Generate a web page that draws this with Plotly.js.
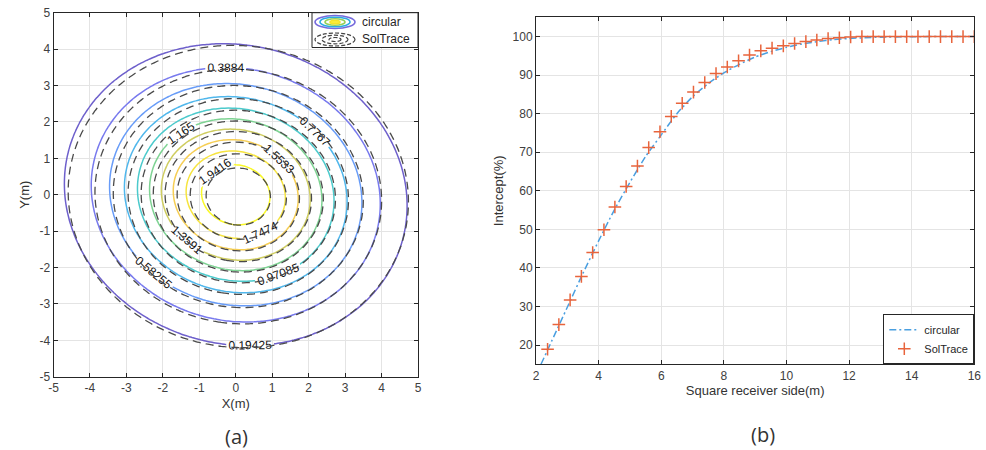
<!DOCTYPE html>
<html>
<head>
<meta charset="utf-8">
<script src="https://cdn.plot.ly/plotly-3.0.1.min.js"></script>
<style>
html, body { margin: 0; padding: 0; background: #fff; }
#chart { width: 986px; height: 450px; }
</style>
</head>
<body>
<div id="chart"></div>
<script>
// ---- (a) flux maps on the receiver plane ----
// contour levels as labelled on the map
const contourLevels = [0.19425, 0.3884, 0.58255, 0.7767, 0.97085, 1.165, 1.3591, 1.5533, 1.7474, 1.9416];
// elliptical Gaussian fit of each map: [circular, SolTrace]
const mapNames = ['circular', 'SolTrace'];
const fluxPeak = [2.1368, 2.115];
const spreadMajor = [2.165, 2.14];
const spreadMinor = [1.873, 1.895];
const centreX = [0.0, 0.07];
const centreY = [0.0, -0.05];
const tiltDeg = [-15, -8];
const xTicksA = [-5, -4, -3, -2, -1, 0, 1, 2, 3, 4, 5];
const yTicksA = [-5, -4, -3, -2, -1, 0, 1, 2, 3, 4, 5];
const tickTextA = ['-5', '-4', '-3', '-2', '-1', '0', '1', '2', '3', '4', '5'];

// ---- (b) intercept factor versus square receiver side ----
const sideCircular = [2.16, 2.5, 3, 3.5, 4, 4.5, 5, 5.5, 6, 6.5, 7, 7.5, 8, 8.5, 9, 9.5, 10, 10.5, 11, 11.5, 12, 12.5, 13, 14, 15, 16];
const interceptCircular = [15, 21.0, 29.8, 38.6, 47.0, 55.0, 62.2, 68.9, 74.5, 80.0, 84.4, 87.8, 90.6, 92.8, 94.7, 96.1, 97.2, 98.1, 98.7, 99.2, 99.5, 99.7, 99.85, 99.97, 100, 100];
const sideSolTrace = [2.37, 2.73, 3.09, 3.45, 3.81, 4.17, 4.52, 4.88, 5.24, 5.60, 5.96, 6.32, 6.67, 7.03, 7.39, 7.75, 8.11, 8.47, 8.82, 9.18, 9.54, 9.90, 10.26, 10.62, 10.97, 11.33, 11.69, 12.05, 12.41, 12.77, 13.12, 13.48, 13.84, 14.20, 14.56, 14.92, 15.28, 15.64, 16.00];
const interceptSolTrace = [18.9, 25.3, 31.7, 37.8, 44.0, 49.9, 55.8, 61.1, 66.4, 71.2, 75.3, 79.3, 82.7, 85.6, 88.1, 90.4, 92.1, 93.7, 95.2, 96.3, 97.0, 97.6, 98.2, 98.7, 99.1, 99.5, 99.7, 99.9, 100, 100, 100, 100, 100, 100, 100, 100, 100, 100, 100];
const xTicksB = [2, 4, 6, 8, 10, 12, 14, 16];
const yTicksB = [20, 30, 40, 50, 60, 70, 80, 90, 100];

// sampling grid for the flux maps
const gridAxis = [];
for (let i = 0; i <= 100; i++) gridAxis.push(-5 + i * 0.1);

function fluxGrid(k) {
  const phi = tiltDeg[k] * Math.PI / 180;
  const c = Math.cos(phi), s = Math.sin(phi);
  const a2 = 2 * spreadMajor[k] * spreadMajor[k];
  const b2 = 2 * spreadMinor[k] * spreadMinor[k];
  return gridAxis.map(y => gridAxis.map(x => {
    const dx = x - centreX[k], dy = y - centreY[k];
    const u = dx * c + dy * s, v = -dx * s + dy * c;
    return fluxPeak[k] * Math.exp(-(u * u / a2 + v * v / b2));
  }));
}

// uniform level spacing taken from the labelled levels
const nLev = contourLevels.length;
const levelStep = (contourLevels[nLev - 1] - contourLevels[0]) / (nLev - 1) - 1e-6;
const levelSpec = { start: contourLevels[0], end: contourLevels[nLev - 1], size: levelStep };

// parula-like map, softened for thin contour lines
const parulaSoft = [
  [0.0, 'rgb(110,96,204)'], [0.1, 'rgb(122,118,236)'], [0.2, 'rgb(108,150,250)'],
  [0.3, 'rgb(88,176,242)'], [0.4, 'rgb(64,198,224)'], [0.5, 'rgb(90,208,180)'],
  [0.6, 'rgb(154,214,120)'], [0.7, 'rgb(234,200,84)'], [0.8, 'rgb(250,208,84)'],
  [0.9, 'rgb(246,230,60)'], [1.0, 'rgb(249,248,40)']
];

const labelFont = { family: 'Liberation Sans, Arial, sans-serif', size: 12, color: '#111' };

const traces = [
  {
    type: 'contour', name: mapNames[0], x: gridAxis, y: gridAxis, z: fluxGrid(0),
    xaxis: 'x', yaxis: 'y', showscale: false, showlegend: false, hoverinfo: 'skip',
    colorscale: parulaSoft, zmin: 0, zmax: fluxPeak[0],
    contours: Object.assign({ coloring: 'lines', showlabels: true, labelformat: '.5~g', labelfont: labelFont }, levelSpec),
    line: { width: 1.5, smoothing: 1 }
  },
  {
    type: 'contour', name: mapNames[1], x: gridAxis, y: gridAxis, z: fluxGrid(1),
    xaxis: 'x', yaxis: 'y', showscale: false, showlegend: false, hoverinfo: 'skip',
    contours: Object.assign({ coloring: 'none', showlabels: false }, levelSpec),
    line: { width: 1.3, color: '#4a4a4a', dash: '8px,5px', smoothing: 1 }
  },
  {
    type: 'scatter', mode: 'lines', name: 'circular', x: sideCircular, y: interceptCircular,
    xaxis: 'x2', yaxis: 'y2',
    line: { color: '#4a9fe0', width: 1.5, dash: '7px,3px,2px,3px', shape: 'spline', smoothing: 0.6 }
  },
  {
    type: 'scatter', mode: 'markers', name: 'SolTrace', x: sideSolTrace, y: interceptSolTrace,
    xaxis: 'x2', yaxis: 'y2',
    marker: { symbol: 'cross-thin-open', size: 9, color: '#e8643c', line: { color: '#e8643c', width: 1.5 } }
  }
];

const axisStyle = {
  showline: true, linecolor: '#262626', linewidth: 1, mirror: 'ticks',
  ticks: 'inside', ticklen: 4, tickcolor: '#262626', tickwidth: 1,
  showgrid: true, gridcolor: '#e4e4e4', gridwidth: 1, zeroline: false,
  tickfont: { family: 'Liberation Sans, Arial, sans-serif', size: 12, color: '#404040' },
  automargin: false, fixedrange: true
};
const titleFont = { family: 'Liberation Sans, Arial, sans-serif', size: 13, color: '#333' };

const W = 986, H = 450;
const px = v => v / W;
const py = v => 1 - v / H;

const legendA = { cx: px(335), top: py(22), bot: py(39.5) };

const shapes = [
  { type: 'rect', xref: 'paper', yref: 'paper', x0: px(312), x1: px(418), y0: py(47.5), y1: py(12.7),
    line: { color: '#262626', width: 1 }, fillcolor: 'white', layer: 'above' }
];
// circular legend glyph: nested coloured rings
[[20, 6.5, 'rgb(118,106,220)', null], [15, 4.8, 'rgb(45,170,225)', null], [10, 3.3, 'rgb(150,208,90)', null], [5, 1.8, 'rgb(245,228,40)', 'rgb(250,235,60)']]
  .forEach(([rx, ry, col, fill]) => shapes.push({
    type: 'circle', xref: 'paper', yref: 'paper', layer: 'above',
    xsizemode: 'pixel', ysizemode: 'pixel', xanchor: legendA.cx, yanchor: legendA.top,
    x0: -rx, x1: rx, y0: -ry, y1: ry,
    line: { color: col, width: 1.6 }, fillcolor: fill || 'rgba(0,0,0,0)'
  }));
// SolTrace legend glyph: nested dashed rings
[[20, 6.5], [13, 4.3], [6, 2]].forEach(([rx, ry]) => shapes.push({
  type: 'circle', xref: 'paper', yref: 'paper', layer: 'above',
  xsizemode: 'pixel', ysizemode: 'pixel', xanchor: legendA.cx, yanchor: legendA.bot,
  x0: -rx, x1: rx, y0: -ry, y1: ry,
  line: { color: '#444', width: 1.2, dash: '4px,2px' }, fillcolor: 'rgba(0,0,0,0)'
}));

const annFont = { family: 'Liberation Sans, Arial, sans-serif', size: 12, color: '#262626' };
const annotations = [
  { xref: 'paper', yref: 'paper', x: px(360), y: legendA.top, xanchor: 'left', yanchor: 'middle', showarrow: false, text: 'circular', font: annFont },
  { xref: 'paper', yref: 'paper', x: px(360), y: legendA.bot, xanchor: 'left', yanchor: 'middle', showarrow: false, text: 'SolTrace', font: annFont },
  { xref: 'paper', yref: 'paper', x: px(236), y: py(436), xanchor: 'center', yanchor: 'middle', showarrow: false, text: '(a)',
    font: { family: 'Open Sans, sans-serif', size: 20, color: '#333' } },
  { xref: 'paper', yref: 'paper', x: px(763), y: py(434), xanchor: 'center', yanchor: 'middle', showarrow: false, text: '(b)',
    font: { family: 'Open Sans, sans-serif', size: 20, color: '#333' } }
];

const layout = {
  width: W, height: H,
  margin: { l: 0, r: 0, t: 0, b: 0 },
  paper_bgcolor: 'white', plot_bgcolor: 'white',
  font: { family: 'Liberation Sans, Arial, sans-serif', size: 12, color: '#333' },
  showlegend: true,
  xaxis: Object.assign({}, axisStyle, { domain: [px(53.5), px(418)], anchor: 'y', range: [-5, 5], tickvals: xTicksA, ticktext: tickTextA,
    title: { text: 'X(m)', font: titleFont, standoff: 4 } }),
  yaxis: Object.assign({}, axisStyle, { domain: [py(376.7), py(12.7)], anchor: 'x', range: [-5, 5], tickvals: yTicksA, ticktext: tickTextA,
    title: { text: 'Y(m)', font: titleFont, standoff: 6 } }),
  xaxis2: Object.assign({}, axisStyle, { domain: [px(536), px(974.3)], anchor: 'y2', range: [2, 16], tickvals: xTicksB,
    title: { text: 'Square receiver side(m)', font: titleFont, standoff: 4 } }),
  yaxis2: Object.assign({}, axisStyle, { domain: [py(364.3), py(17.3)], anchor: 'x2', range: [15, 105], tickvals: yTicksB,
    title: { text: 'Intercept(%)', font: titleFont, standoff: 6 } }),
  legend: {
    x: px(974.3), xanchor: 'right', y: py(364.3), yanchor: 'bottom',
    bgcolor: 'white', bordercolor: '#262626', borderwidth: 1,
    font: { family: 'Liberation Sans, Arial, sans-serif', size: 11, color: '#262626' },
    itemwidth: 30, tracegroupgap: 0
  },
  shapes: shapes,
  annotations: annotations
};

Plotly.newPlot('chart', traces, layout, { displayModeBar: false, staticPlot: true });
</script>
</body>
</html>
